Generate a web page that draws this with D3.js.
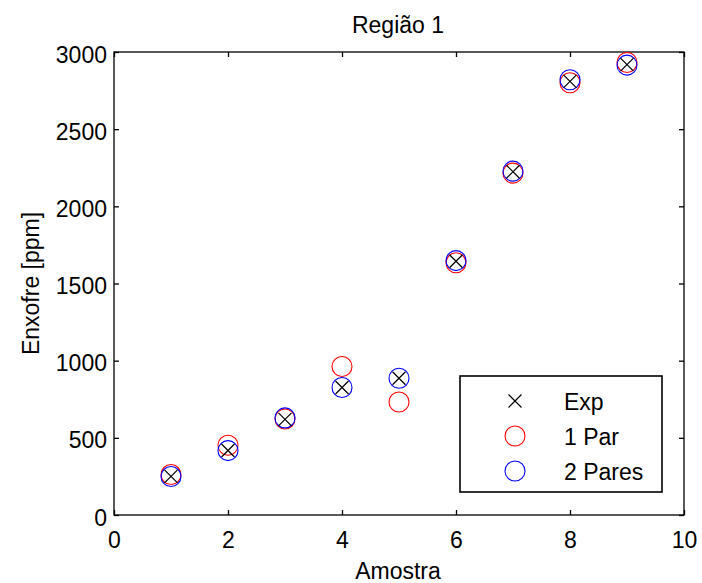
<!DOCTYPE html>
<html><head><meta charset="utf-8">
<script src="https://cdn.jsdelivr.net/npm/d3@7"></script>
<style>body{margin:0;background:#fff;} text{font-family:"Liberation Sans",Arial,sans-serif;}</style>
</head><body>
<svg id="c" width="702" height="583"></svg>
<script>
const amostras = [1,2,3,4,5,6,7,8,9];
const exp = [250, 418, 620, 826, 886, 1644, 2224, 2810, 2918];
const par1 = [262, 452, 622, 962, 732, 1634, 2215, 2801, 2932];
const par2 = [249, 417, 629, 826, 886, 1648, 2228, 2820, 2915];
const xTicks = [0,2,4,6,8,10];
const yTicks = [0,500,1000,1500,2000,2500,3000];
const legendLabels = ["Exp","1 Par","2 Pares"];

const svg = d3.select("#c");
const L=114, R=684, T=52, B=515;
const x = d3.scaleLinear().domain([0,10]).range([L,R]);
const y = d3.scaleLinear().domain([0,3000]).range([B,T]);
const fs = 23;
const ff = "'Liberation Sans',Arial,sans-serif";

// box
svg.append("rect").attr("x",L).attr("y",T).attr("width",R-L).attr("height",B-T)
  .attr("fill","#fff").attr("stroke","#000").attr("stroke-width",1.3);

// axes (ticks inward)
const ax = svg.append("g").attr("transform",`translate(0,${B})`)
  .call(d3.axisBottom(x).tickValues(xTicks).tickSize(-5).tickPadding(0).tickFormat(d3.format("d")));
const axT = svg.append("g").attr("transform",`translate(0,${T})`)
  .call(d3.axisTop(x).tickValues(xTicks).tickSize(-5).tickFormat(""));
const ay = svg.append("g").attr("transform",`translate(${L},0)`)
  .call(d3.axisLeft(y).tickValues(yTicks).tickSize(-5).tickPadding(0).tickFormat(d3.format("d")));
const ayR = svg.append("g").attr("transform",`translate(${R},0)`)
  .call(d3.axisRight(y).tickValues(yTicks).tickSize(-5).tickFormat(""));
[ax,axT,ay,ayR].forEach(g=>{
  g.select(".domain").remove();
  g.selectAll("line").attr("stroke","#000").attr("stroke-width",1.3);
  g.selectAll("text").attr("font-size",fs).attr("fill","#000").attr("font-family",ff);
});
ax.selectAll("text").attr("y",33).attr("dy",null);
ay.selectAll("text").attr("x",-7).attr("dy",null).attr("y",10);

// title and labels
svg.append("text").attr("x",398).attr("y",33).attr("text-anchor","middle")
  .attr("font-size",fs).attr("font-family",ff).text("Região 1");
svg.append("text").attr("x",398).attr("y",579).attr("text-anchor","middle")
  .attr("font-size",fs).attr("font-family",ff).text("Amostra");
svg.append("text").attr("transform","translate(38.5,283.5) rotate(-90)").attr("text-anchor","middle")
  .attr("font-size",fs).attr("font-family",ff).text("Enxofre [ppm]");

const r = 10, h = 6.5;
function drawCircles(vals, color){
  svg.append("g").selectAll("circle").data(vals).join("circle")
    .attr("cx",(d,i)=>x(amostras[i])).attr("cy",d=>y(d)).attr("r",r)
    .attr("fill","none").attr("stroke",color).attr("stroke-width",1.1);
}
drawCircles(par1,"#ff0000");
drawCircles(par2,"#0000ff");
const gx = svg.append("g");
exp.forEach((d,i)=>{
  const cx=x(amostras[i]), cy=y(d);
  gx.append("path").attr("d",`M${cx-h},${cy-h}L${cx+h},${cy+h}M${cx-h},${cy+h}L${cx+h},${cy-h}`)
    .attr("stroke","#000").attr("stroke-width",1.2);
});

// legend
const lg = svg.append("g");
lg.append("rect").attr("x",460).attr("y",376).attr("width",202).attr("height",116)
  .attr("fill","#fff").attr("stroke","#000").attr("stroke-width",1.6);
const rows = [401, 436, 471];
legendLabels.forEach((lab,i)=>{
  const cy = rows[i], cx = 515;
  if(i===0){
    lg.append("path").attr("d",`M${cx-h},${cy-h}L${cx+h},${cy+h}M${cx-h},${cy+h}L${cx+h},${cy-h}`)
      .attr("stroke","#000").attr("stroke-width",1.2);
  } else {
    lg.append("circle").attr("cx",cx).attr("cy",cy).attr("r",r).attr("fill","none")
      .attr("stroke",i===1?"#ff0000":"#0000ff").attr("stroke-width",1.1);
  }
  lg.append("text").attr("x",564).attr("y",cy+8.5).attr("font-size",fs).attr("font-family",ff).text(lab);
});
</script>
</body></html>
